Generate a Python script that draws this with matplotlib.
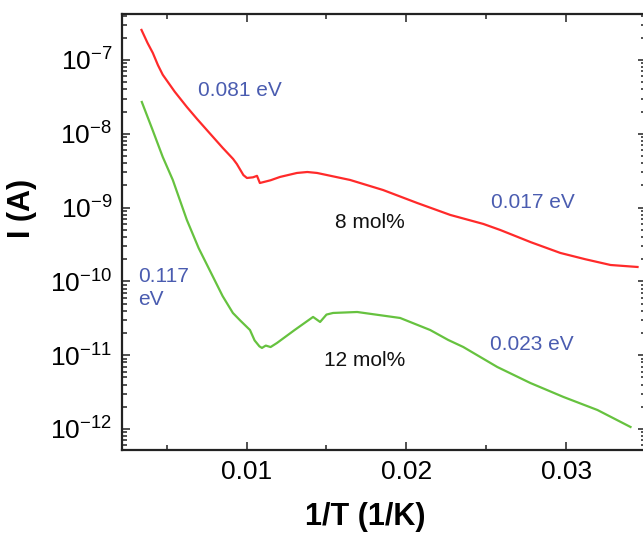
import numpy as np
import matplotlib
matplotlib.use("Agg")
import matplotlib.pyplot as plt
from matplotlib.ticker import LogLocator, FixedLocator, NullFormatter

plt.rcParams['font.family'] = ['Liberation Sans', 'DejaVu Sans']
plt.rcParams['mathtext.fontset'] = 'custom'
plt.rcParams['mathtext.rm'] = 'Liberation Sans'
plt.rcParams['mathtext.it'] = 'Liberation Sans:italic'
plt.rcParams['mathtext.bf'] = 'Liberation Sans:bold'

# 8 mol% (red): 1/T values and log10(I)
x_8 = [0.00342, 0.00380, 0.00413, 0.00445, 0.00475, 0.00550, 0.00626, 0.00690,
       0.00751, 0.00850, 0.00915, 0.00939, 0.00980, 0.01002, 0.01040, 0.01065,
       0.01083, 0.01150, 0.01209, 0.01315, 0.01380, 0.01441, 0.01648, 0.01854,
       0.02068, 0.02275, 0.02482, 0.02588, 0.02780, 0.02964, 0.03120, 0.03278,
       0.03447]
logI_8 = [-6.593, -6.770, -6.905, -7.070, -7.200, -7.430, -7.637, -7.800,
          -7.949, -8.190, -8.340, -8.410, -8.560, -8.599, -8.590, -8.570,
          -8.667, -8.630, -8.585, -8.531, -8.518, -8.531, -8.626, -8.762,
          -8.938, -9.100, -9.222, -9.304, -9.470, -9.615, -9.700, -9.778,
          -9.805]

# 12 mol% (green)
x_12 = [0.00344, 0.00410, 0.00475, 0.00538, 0.00626, 0.00700, 0.00790, 0.00850,
        0.00914, 0.00960, 0.01021, 0.01050, 0.01080, 0.01096, 0.01120, 0.01150,
        0.01190, 0.01300, 0.01416, 0.01460, 0.01500, 0.01541, 0.01692, 0.01961,
        0.02149, 0.02262, 0.02356, 0.02569, 0.02776, 0.02983, 0.03196, 0.03403]
logI_12 = [-7.569, -7.940, -8.314, -8.626, -9.168, -9.550, -9.940, -10.200,
           -10.428, -10.530, -10.659, -10.800, -10.880, -10.902, -10.870, -10.890,
           -10.835, -10.660, -10.482, -10.550, -10.450, -10.428, -10.415, -10.496,
           -10.659, -10.794, -10.889, -11.160, -11.377, -11.566, -11.743, -11.973]

labels_ev = ["0.081 eV", "0.017 eV", "0.117\neV", "0.023 eV"]
labels_mol = ["8 mol%", "12 mol%"]

fig = plt.figure(figsize=(6.43, 5.34), dpi=100)
ax = fig.add_axes([122/643, 1-450/534, (646-122)/643, (450-14)/534])

ax.plot(x_8, 10**np.array(logI_8), color='#ff2a2a', lw=1.6)
ax.plot(x_12, 10**np.array(logI_12), color='#66c23f', lw=1.6)

ax.set_yscale('log')
ax.set_xlim(0.0022, 0.0350)
ax.set_ylim(10**-12.285, 10**-6.377)

ax.xaxis.set_major_locator(FixedLocator([0.01, 0.02, 0.03]))
ax.xaxis.set_minor_locator(FixedLocator([0.005, 0.015, 0.025]))
ax.set_xticklabels(['0.01', '0.02', '0.03'])
ax.yaxis.set_major_locator(FixedLocator([1e-12, 1e-11, 1e-10, 1e-9, 1e-8, 1e-7]))
ax.yaxis.set_minor_locator(LogLocator(base=10, subs=np.arange(2, 10), numticks=50))
ax.yaxis.set_minor_formatter(NullFormatter())

ax.tick_params(which='both', direction='in', top=True, right=True, width=1.2, color='#333333')
ax.tick_params(which='major', length=6, labelsize=19, pad=7)
ax.tick_params(which='minor', length=3.5)
ax.tick_params(axis='x', which='major', pad=7)
for s in ax.spines.values():
    s.set_linewidth(1.6)
    s.set_color('#222222')

ax.set_xlabel('1/T (1/K)', fontsize=22, fontweight='bold', va='center')
ax.xaxis.set_label_coords((365-122)/524, (450-517)/436)
ax.set_ylabel('I (A)', fontsize=22, fontweight='bold', va='center')
ax.yaxis.set_label_coords((22-122)/524, (450-208)/436)

blue = '#4a5cb0'
fs = 15
fig.text(240/643, 1-90/534, labels_ev[0], color=blue, fontsize=fs, ha='center', va='center')
fig.text(533/643, 1-203/534, labels_ev[1], color=blue, fontsize=fs, ha='center', va='center')
fig.text(138/643, 1-288/534, labels_ev[2], color=blue, fontsize=fs, ha='left', va='center', linespacing=1.25)
fig.text(532/643, 1-345/534, labels_ev[3], color=blue, fontsize=fs, ha='center', va='center')
fig.text(370/643, 1-223/534, labels_mol[0], color='#111111', fontsize=fs, ha='center', va='center')
fig.text(365/643, 1-360/534, labels_mol[1], color='#111111', fontsize=fs, ha='center', va='center')

fig.savefig('out.png', dpi=100)
